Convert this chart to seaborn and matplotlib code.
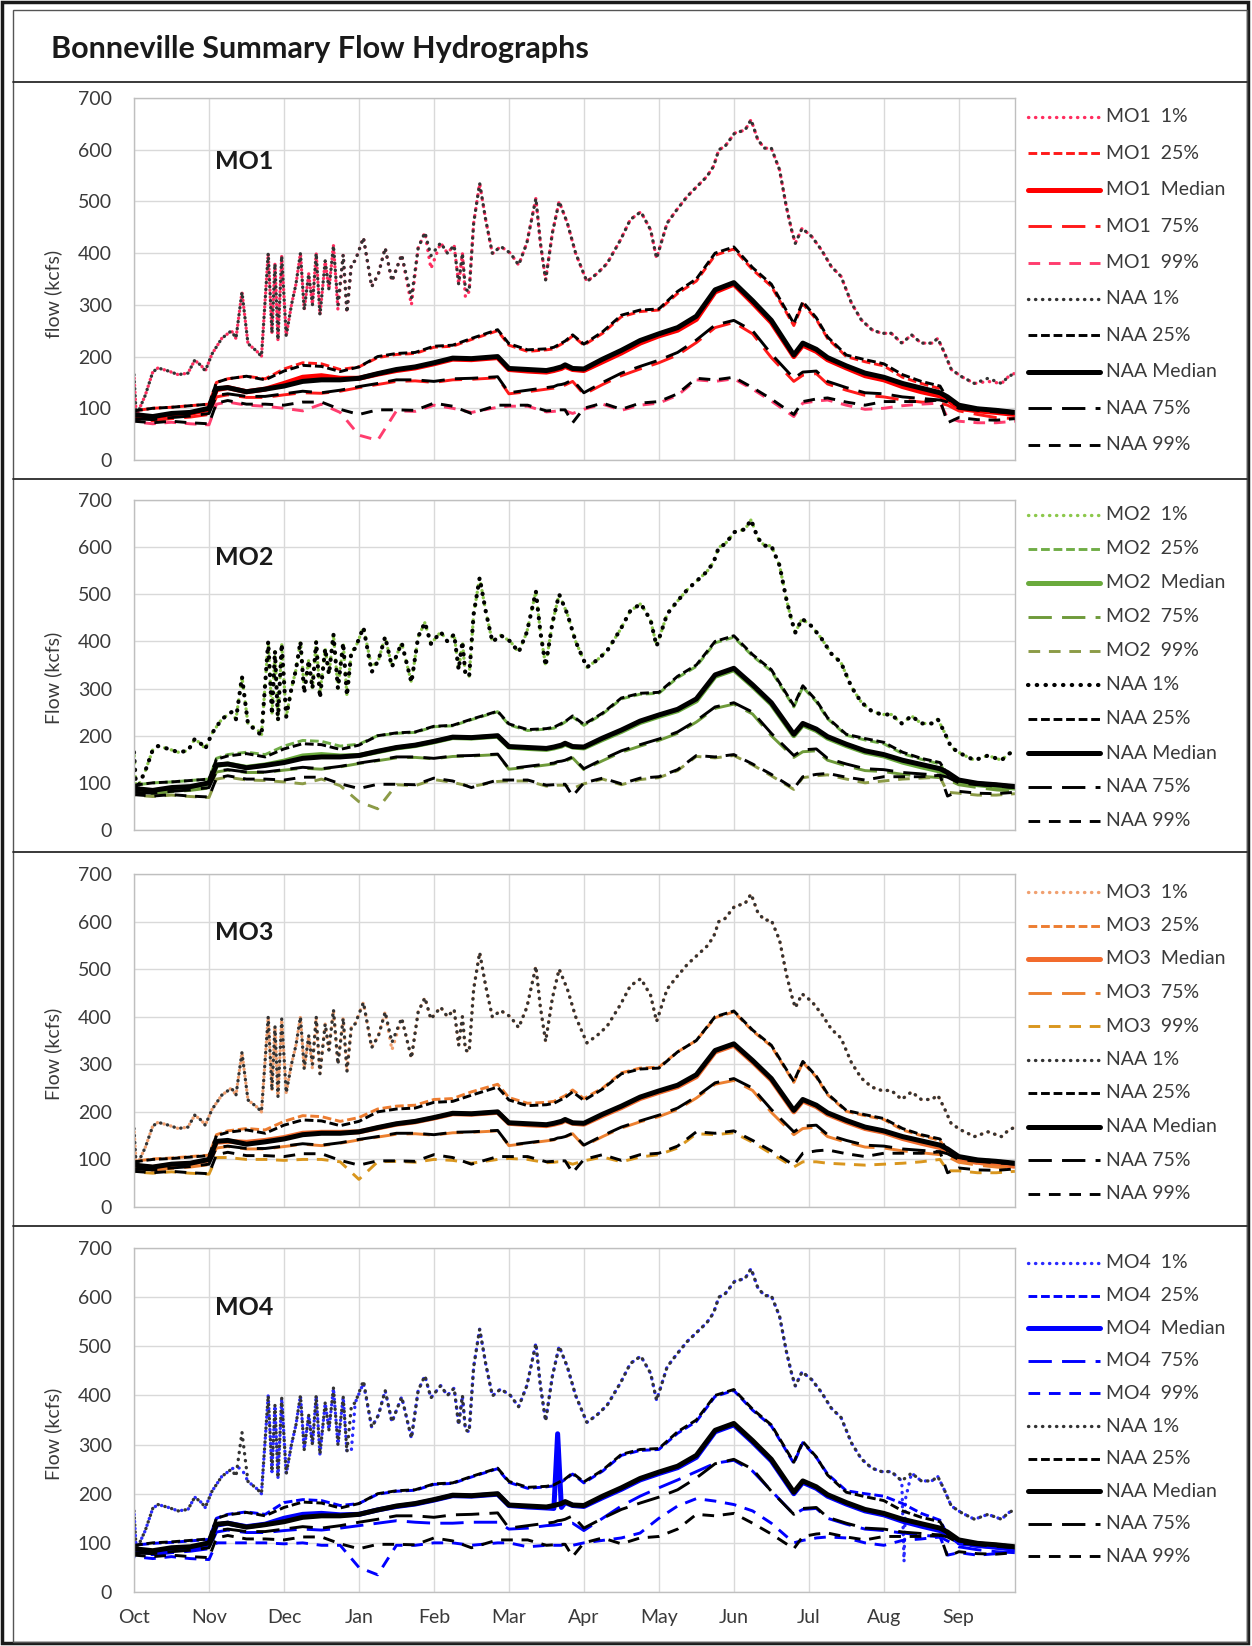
import matplotlib
matplotlib.use("Agg")
import matplotlib.pyplot as plt
from matplotlib.lines import Line2D
from matplotlib.patches import Rectangle
import seaborn as sns

W, H = 1252, 1646

month_labels = ["Oct", "Nov", "Dec", "Jan", "Feb", "Mar", "Apr", "May", "Jun", "Jul", "Aug", "Sep"]

# time axis in months after 1 Oct (gridlines sit on whole months)
t = [0, 0.25, 0.5, 0.75,
     1.0, 1.1, 1.25, 1.5, 1.75,
     2.0, 2.25, 2.5, 2.75,
     3.0, 3.25, 3.5, 3.75,
     4.0, 4.25, 4.5, 4.85,
     5.0, 5.25, 5.5, 5.6, 5.65, 5.7, 5.75, 5.85,
     6.0, 6.25, 6.5, 6.75,
     7.0, 7.25, 7.5, 7.75,
     8.0, 8.25, 8.5, 8.8, 8.92,
     9.1, 9.25, 9.5, 9.75,
     10.0, 10.25, 10.5, 10.75, 10.85,
     11.0, 11.25, 11.5, 11.75]

# ---- NAA (same in every panel) ----
naa_p25 = [95, 100, 102, 105,
           108, 150, 157, 162, 155,
           172, 183, 181, 171,
           180, 200, 206, 208,
           220, 222, 235, 252,
           225, 213, 215, 218, 222, 226, 230, 242,
           224, 248, 280, 290,
           292, 326, 350, 400,
           412, 372, 340, 264, 306,
           275, 238, 203, 194,
           186, 165, 152, 143, 118,
           104, 100, 97, 93]
naa_p50 = [88, 84, 90, 92,
           100, 138, 140, 132, 137,
           143, 152, 155, 155,
           158, 167, 175, 180,
           188, 197, 196, 200,
           177, 175, 173, 176, 178, 180, 184, 177,
           176, 195, 212, 231,
           244, 256, 278, 329,
           343, 308, 270, 203, 226,
           214, 198, 182, 168,
           160, 148, 139, 130, 122,
           106, 99, 96, 92]
naa_p75 = [80, 78, 82, 85,
           90, 125, 128, 123, 123,
           128, 133, 130, 135,
           142, 148, 155, 155,
           152, 157, 158, 161,
           130, 135, 140, 142, 145, 146, 148, 155,
           130, 150, 168, 181,
           193, 208, 232, 261,
           270, 250, 205, 158, 170,
           172, 152, 140, 130,
           128, 122, 119, 116, 112,
           100, 96, 93, 90]
naa_p99 = [75, 72, 75, 72,
           70, 110, 115, 108, 108,
           106, 112, 112, 98,
           88, 97, 97, 96,
           110, 104, 90, 106,
           106, 106, 95, 96, 97, 97, 97, 72,
           100, 110, 98, 110,
           113, 128, 158, 155,
           160, 140, 118, 88, 113,
           118, 120, 112, 106,
           113, 113, 113, 116, 72,
           82, 78, 77, 80]

# 1% exceedance lines use their own, denser time axis
t1 = [0.00, 0.03, 0.15, 0.25, 0.32, 0.46, 0.59, 0.72, 0.81, 0.90, 0.95,
      1.04, 1.17, 1.30, 1.36, 1.44, 1.52, 1.64, 1.70, 1.79, 1.84, 1.88, 1.92, 1.97,
      2.03, 2.10, 2.16, 2.22, 2.27, 2.33, 2.38, 2.43, 2.48, 2.55, 2.60, 2.66, 2.72, 2.79, 2.84, 2.90, 2.95,
      3.06, 3.17, 3.26, 3.35, 3.44, 3.57, 3.70, 3.79, 3.88, 3.96,
      4.09, 4.18, 4.27, 4.33, 4.38, 4.42, 4.47, 4.53, 4.61, 4.69, 4.78, 4.89,
      5.02, 5.13, 5.24, 5.36, 5.42, 5.49, 5.58, 5.67, 5.78, 5.89,
      6.04, 6.18, 6.31, 6.49, 6.62, 6.76, 6.89, 6.97,
      7.11, 7.24, 7.38, 7.51, 7.64, 7.73, 7.80, 7.88,
      8.01, 8.15, 8.23, 8.32, 8.41, 8.50, 8.61, 8.70, 8.77, 8.82, 8.91,
      9.04, 9.17, 9.30, 9.43, 9.57, 9.70, 9.84, 9.97,
      10.10, 10.24, 10.27, 10.29, 10.37, 10.50, 10.64, 10.72, 10.81, 10.90,
      11.04, 11.21, 11.39, 11.57, 11.66, 11.75]
naa_p01 = [165, 85, 125, 170, 178, 172, 165, 168, 193, 182, 172,
           205, 235, 250, 235, 325, 225, 210, 200, 400, 245, 380, 232, 395,
           240, 300, 340, 400, 290, 360, 300, 400, 280, 385, 330, 415, 300, 397, 285, 380, 385,
           430, 335, 360, 410, 346, 397, 313, 410, 440, 395,
           420, 400, 415, 340, 400, 330, 326, 458, 535, 465, 399, 413,
           400, 377, 420, 506, 420, 348, 439, 500, 458, 400,
           345, 361, 380, 426, 465, 480, 445, 390,
           458, 484, 510, 529, 548, 568, 600, 606,
           632, 638, 658, 619, 603, 603, 561, 490, 445, 419, 448,
           432, 406, 374, 355, 303, 271, 252, 245,
           245, 226, 230, 232, 242, 226, 226, 235, 207, 175,
           161, 148, 158, 148, 161, 168]

# ---- MO1 ----
mo1_p01 = [165, 85, 125, 170, 178, 172, 165, 168, 193, 182, 172,
           205, 235, 250, 235, 325, 225, 210, 200, 400, 245, 380, 232, 395,
           240, 300, 340, 400, 290, 360, 300, 400, 280, 385, 330, 415, 290, 397, 285, 380, 385,
           430, 335, 360, 410, 346, 397, 300, 410, 440, 370,
           420, 400, 415, 340, 400, 315, 326, 458, 535, 465, 399, 413,
           400, 377, 420, 506, 420, 348, 439, 500, 458, 400,
           345, 361, 380, 426, 465, 480, 445, 390,
           458, 484, 510, 529, 548, 568, 600, 606,
           632, 638, 658, 619, 603, 603, 561, 490, 445, 419, 448,
           432, 406, 374, 355, 303, 271, 252, 245,
           245, 226, 230, 232, 242, 226, 226, 235, 207, 175,
           161, 148, 152, 148, 161, 168]
mo1_p25 = [95, 100, 102, 105,
           108, 150, 157, 162, 157,
           176, 188, 186, 175,
           180, 198, 204, 206,
           218, 220, 233, 250,
           222, 210, 213, 215, 220, 224, 228, 240,
           222, 245, 277, 287,
           290, 322, 346, 396,
           408, 368, 336, 260, 302,
           272, 235, 200, 190,
           182, 160, 148, 138, 114,
           100, 95, 92, 88]
mo1_p50 = [86, 82, 88, 90,
           98, 136, 140, 132, 137,
           148, 160, 163, 158,
           158, 166, 173, 178,
           186, 195, 194, 198,
           175, 172, 170, 173, 175, 177, 181, 175,
           173, 190, 207, 226,
           240, 251, 272, 325,
           340, 304, 266, 200, 222,
           210, 194, 178, 163,
           155, 142, 132, 124, 117,
           100, 95, 92, 88]
mo1_p75 = [78, 76, 80, 83,
           88, 122, 126, 121, 121,
           126, 130, 129, 133,
           140, 146, 152, 153,
           150, 155, 156, 159,
           128, 132, 137, 139, 142, 143, 145, 152,
           127, 146, 163, 176,
           188, 203, 227, 256,
           266, 244, 198, 152, 164,
           167, 147, 135, 125,
           122, 116, 112, 110, 106,
           95, 88, 82, 80]
mo1_p99 = [74, 70, 73, 70,
           68, 108, 112, 106, 104,
           100, 95, 108, 92,
           48, 38, 95, 94,
           106, 100, 92, 102,
           104, 104, 93, 94, 95, 95, 95, 90,
           98, 108, 96, 106,
           110, 125, 155, 152,
           157, 137, 114, 84, 110,
           114, 116, 106, 98,
           100, 105, 108, 110, 82,
           75, 72, 72, 75]

# ---- MO2 ----
mo2_p01 = [165, 85, 125, 170, 178, 172, 165, 168, 193, 182, 172,
           205, 235, 250, 235, 325, 225, 215, 200, 400, 245, 380, 232, 395,
           240, 300, 340, 400, 300, 360, 300, 400, 290, 385, 330, 415, 300, 397, 285, 380, 385,
           430, 345, 360, 410, 346, 397, 313, 410, 440, 395,
           420, 400, 415, 340, 400, 330, 326, 458, 535, 465, 399, 413,
           400, 377, 420, 506, 420, 348, 439, 500, 458, 400,
           345, 361, 380, 426, 465, 480, 445, 390,
           458, 484, 510, 529, 548, 568, 600, 606,
           632, 638, 658, 619, 603, 603, 561, 490, 445, 419, 448,
           432, 406, 374, 355, 303, 271, 252, 245,
           245, 226, 230, 232, 242, 226, 226, 235, 207, 175,
           161, 148, 158, 148, 161, 168]
mo2_p25 = [95, 100, 102, 105,
           108, 152, 160, 165, 160,
           178, 190, 188, 178,
           182, 200, 205, 207,
           219, 221, 234, 251,
           223, 211, 214, 216, 220, 224, 229, 240,
           222, 246, 278, 288,
           290, 323, 347, 397,
           409, 369, 337, 261, 303,
           272, 236, 201, 191,
           183, 162, 150, 140, 115,
           101, 96, 93, 89]
mo2_p50 = [86, 83, 88, 91,
           99, 137, 140, 133, 138,
           146, 157, 160, 157,
           158, 166, 174, 179,
           187, 196, 195, 199,
           176, 173, 171, 174, 176, 178, 182, 176,
           174, 192, 209, 228,
           241, 253, 274, 326,
           340, 305, 267, 200, 223,
           211, 195, 179, 165,
           157, 144, 134, 125, 118,
           101, 96, 92, 89]
mo2_p75 = [79, 77, 81, 84,
           89, 123, 127, 122, 122,
           127, 131, 129, 134,
           141, 147, 153, 154,
           151, 156, 157, 160,
           129, 133, 138, 140, 143, 144, 146, 153,
           128, 147, 165, 178,
           190, 205, 229, 258,
           267, 246, 200, 154, 166,
           168, 148, 136, 126,
           124, 118, 114, 111, 107,
           96, 90, 85, 82]
mo2_p99 = [74, 71, 74, 71,
           69, 108, 112, 106, 105,
           102, 98, 108, 94,
           60, 45, 96, 94,
           107, 101, 92, 103,
           104, 104, 93, 94, 95, 95, 95, 88,
           98, 108, 96, 107,
           111, 126, 156, 153,
           158, 138, 115, 86, 111,
           115, 117, 108, 100,
           104, 108, 110, 112, 80,
           78, 74, 74, 77]

# ---- MO3 ----
mo3_p01 = [165, 85, 125, 170, 178, 172, 165, 168, 193, 182, 172,
           205, 235, 250, 235, 325, 225, 210, 200, 400, 245, 380, 232, 395,
           240, 300, 340, 400, 290, 360, 290, 400, 280, 385, 330, 415, 300, 397, 285, 380, 385,
           430, 335, 360, 410, 330, 397, 313, 410, 440, 395,
           420, 400, 415, 340, 400, 330, 326, 458, 535, 465, 399, 413,
           400, 377, 420, 506, 420, 348, 439, 500, 458, 400,
           345, 361, 380, 426, 465, 480, 445, 390,
           458, 484, 510, 529, 548, 568, 600, 606,
           632, 638, 658, 619, 603, 603, 561, 490, 445, 419, 448,
           432, 406, 374, 355, 303, 271, 252, 245,
           245, 226, 230, 232, 242, 226, 226, 235, 207, 175,
           161, 148, 158, 148, 161, 168]
mo3_p25 = [96, 101, 103, 106,
           109, 152, 160, 165, 162,
           180, 192, 190, 180,
           188, 206, 212, 214,
           226, 228, 242, 258,
           230, 218, 220, 222, 226, 230, 234, 246,
           228, 250, 282, 292,
           294, 326, 350, 398,
           410, 370, 338, 262, 304,
           273, 236, 201, 192,
           184, 162, 150, 140, 114,
           98, 92, 88, 84]
mo3_p50 = [87, 83, 89, 91,
           99, 136, 138, 136, 140,
           146, 155, 157, 157,
           158, 166, 174, 179,
           187, 196, 195, 199,
           176, 173, 171, 174, 176, 178, 182, 176,
           174, 192, 209, 228,
           241, 253, 274, 326,
           340, 305, 267, 200, 223,
           211, 195, 179, 165,
           157, 144, 134, 125, 118,
           100, 94, 90, 86]
mo3_p75 = [79, 77, 81, 84,
           89, 124, 127, 122, 122,
           127, 132, 129, 134,
           141, 147, 153, 154,
           151, 156, 157, 160,
           129, 134, 139, 141, 144, 145, 147, 154,
           128, 148, 166, 179,
           190, 205, 229, 258,
           266, 245, 199, 152, 165,
           168, 148, 136, 126,
           124, 118, 114, 110, 106,
           94, 88, 84, 80]
mo3_p99 = [74, 71, 74, 71,
           69, 104, 104, 100, 100,
           98, 100, 100, 95,
           58, 95, 96, 94,
           100, 98, 92, 100,
           102, 100, 93, 94, 95, 95, 95, 90,
           97, 105, 95, 105,
           110, 124, 154, 152,
           156, 136, 112, 84, 95,
           95, 92, 90, 88,
           90, 92, 95, 100, 76,
           76, 72, 72, 75]

# ---- MO4 ----
mo4_p01 = [165, 85, 125, 170, 178, 172, 165, 168, 193, 182, 172,
           205, 235, 250, 255, 250, 225, 210, 200, 400, 245, 380, 232, 395,
           240, 300, 340, 400, 290, 360, 300, 400, 280, 385, 330, 415, 300, 397, 285, 290, 385,
           425, 335, 360, 410, 346, 397, 313, 410, 440, 395,
           420, 400, 415, 340, 400, 330, 326, 458, 535, 465, 399, 413,
           400, 377, 420, 506, 420, 348, 439, 500, 458, 400,
           345, 361, 380, 426, 465, 480, 445, 390,
           458, 484, 510, 529, 548, 568, 600, 606,
           632, 638, 658, 619, 603, 603, 561, 490, 445, 419, 448,
           432, 406, 374, 355, 303, 271, 252, 245,
           245, 226, 62, 190, 242, 226, 226, 235, 207, 175,
           161, 148, 158, 148, 161, 168]
mo4_p25 = [95, 99, 101, 104,
           107, 150, 158, 163, 158,
           182, 188, 186, 176,
           180, 199, 205, 207,
           219, 221, 234, 251,
           223, 211, 214, 216, 220, 224, 229, 240,
           222, 246, 278, 288,
           290, 323, 347, 398,
           410, 370, 338, 262, 304,
           274, 240, 206, 200,
           195, 180, 160, 146, 116,
           98, 93, 90, 88]
mo4_p50 = [84, 80, 86, 88,
           96, 136, 140, 133, 138,
           150, 158, 160, 157,
           158, 167, 174, 179,
           187, 196, 195, 199,
           176, 173, 171, 170, 322, 172, 182, 176,
           174, 192, 209, 228,
           241, 253, 274, 326,
           340, 305, 267, 200, 223,
           211, 195, 179, 165,
           157, 144, 134, 125, 118,
           101, 95, 91, 88]
mo4_p75 = [78, 76, 80, 83,
           88, 122, 126, 121, 121,
           125, 128, 126, 130,
           135, 140, 145, 142,
           140, 140, 142, 142,
           128, 130, 135, 136, 137, 138, 138, 140,
           125, 150, 175, 195,
           212, 228, 245, 262,
           268, 246, 206, 158, 168,
           170, 150, 138, 128,
           125, 120, 116, 112, 104,
           92, 86, 82, 80]
mo4_p99 = [72, 68, 72, 68,
           66, 100, 100, 100, 100,
           98, 100, 95, 95,
           50, 35, 95, 95,
           100, 100, 95, 100,
           100, 92, 95, 95, 95, 95, 98, 95,
           100, 105, 110, 120,
           150, 175, 190, 185,
           178, 165, 140, 100, 105,
           110, 112, 110, 100,
           95, 105, 108, 112, 75,
           80, 75, 78, 85]

pct_names = ["1%", "25%", "Median", "75%", "99%"]
naa_series = [naa_p01, naa_p25, naa_p50, naa_p75, naa_p99]
mo_series = {
    "MO1": [mo1_p01, mo1_p25, mo1_p50, mo1_p75, mo1_p99],
    "MO2": [mo2_p01, mo2_p25, mo2_p50, mo2_p75, mo2_p99],
    "MO3": [mo3_p01, mo3_p25, mo3_p50, mo3_p75, mo3_p99],
    "MO4": [mo4_p01, mo4_p25, mo4_p50, mo4_p75, mo4_p99],
}
mo_colors = {
    "MO1": ["#ff2d5f", "#ff1a1a", "#ff0000", "#ff1a1a", "#ff3d6e"],
    "MO2": ["#8cc84b", "#70ad47", "#6aaa3c", "#6e9a3a", "#8c9b47"],
    "MO3": ["#f0a070", "#ed7d31", "#f26b2d", "#ec8030", "#d9961e"],
    "MO4": ["#2a2aff", "#0000ff", "#0000ff", "#0000ff", "#0000ff"],
}

# line styles: (dash pattern, width) per percentile; MO lines shifted half a period
patterns = [(0.1, 2.0), (3, 1.3), None, (8, 3.5), (4, 3)]
widths = [2.4, 2.1, 3.6, 2.1, 2.1]


def style(i, shift):
    if patterns[i] is None:
        return "-"
    on, off = patterns[i]
    return ((on + off) / 2 if shift else 0, (on, off))


# panel geometry in pixels: (top of 700, bottom at 0, legend first y, legend step)
panels = [
    ("MO1", 98, 460, 117, 36.4, "flow (kcfs)"),
    ("MO2", 500, 830, 515, 34.0, "Flow (kcfs)"),
    ("MO3", 874, 1207, 892, 33.5, "Flow (kcfs)"),
    ("MO4", 1248, 1592, 1263, 32.6, "Flow (kcfs)"),
]

sns.set_theme(style="whitegrid")
plt.rcParams["font.family"] = ["Lato", "DejaVu Sans"]

fig = plt.figure(figsize=(W / 100, H / 100), dpi=100)
fig.patch.set_facecolor("white")

left, right = 134, 1015

for k, (name, top, bot, leg_y0, leg_dy, ylab) in enumerate(panels):
    ax = fig.add_axes([left / W, 1 - bot / H, (right - left) / W, (bot - top) / H])
    ax.set_facecolor("white")
    naa_p01_color = "#000000" if name == "MO2" else "#333333"
    naa_colors = [naa_p01_color, "black", "black", "black", "black"]
    naa_w = list(widths)
    if name == "MO2":
        naa_w[0] = 3.0

    entries = []
    # MO lines first, NAA drawn on top
    for i, ys in enumerate(mo_series[name]):
        xs = t1 if i == 0 else t
        sns.lineplot(x=xs, y=ys, ax=ax, color=mo_colors[name][i], linewidth=widths[i],
                     linestyle=style(i, True), dash_capstyle="round" if i == 0 else "butt",
                     sort=False, estimator=None, legend=False)
        entries.append((f"{name}  {pct_names[i]}", mo_colors[name][i], widths[i], style(i, False), i == 0))
    for i, ys in enumerate(naa_series):
        xs = t1 if i == 0 else t
        sns.lineplot(x=xs, y=ys, ax=ax, color=naa_colors[i], linewidth=naa_w[i],
                     linestyle=style(i, False), dash_capstyle="round" if i == 0 else "butt",
                     sort=False, estimator=None, legend=False)
        entries.append((f"NAA {pct_names[i]}", naa_colors[i], naa_w[i], style(i, False), i == 0))

    ax.set_xlim(0, 11.75)
    ax.set_ylim(0, 700)
    ax.set_yticks(range(0, 701, 100))
    ax.set_xticks(range(12))
    ax.grid(True, color="#d9d9d9", linewidth=1.0)
    for sp in ax.spines.values():
        sp.set_color("#bfbfbf")
        sp.set_linewidth(1.0)
    ax.tick_params(axis="both", length=0, labelsize=14, labelcolor="#3a3a3a")
    ax.tick_params(axis="y", pad=16)
    if k == 3:
        ax.set_xticklabels(month_labels)
        ax.tick_params(axis="x", pad=12)
    else:
        ax.tick_params(axis="x", labelbottom=False)
    ax.set_xlabel("")
    ax.set_ylabel(ylab, fontsize=14, color="#3a3a3a")
    ax.yaxis.set_label_coords((62 - left) / (right - left), 0.46)

    ax.text(1.47, 578, name, ha="center", va="center", fontsize=18,
            fontweight="bold", color="#1a1a1a")

    # legend, one row per series
    for j, (lab, col, lw, ls, dotted) in enumerate(entries):
        y = leg_y0 + j * leg_dy
        fig.add_artist(Line2D([1028 / W, 1100 / W], [1 - y / H, 1 - y / H], color=col,
                              linewidth=lw, linestyle=ls,
                              dash_capstyle="round" if dotted else "butt"))
        fig.text(1106 / W, 1 - y / H, lab, ha="left", va="center", fontsize=14, color="#3a3a3a")

# title and frame
fig.text(51 / W, 1 - 49 / H, "Bonneville Summary Flow Hydrographs", ha="left", va="center",
         fontsize=22, fontweight="bold", color="#1a1a1a")
fig.add_artist(Rectangle((2 / W, 3 / H), 1246 / W, 1641 / H, transform=fig.transFigure,
                         fill=False, edgecolor="#1a1a1a", linewidth=2.5))
fig.add_artist(Rectangle((13 / W, 4 / H), 1234 / W, 1632 / H, transform=fig.transFigure,
                         fill=False, edgecolor="#555555", linewidth=1.0))
for ysep in [82, 479, 852, 1226]:
    fig.add_artist(Line2D([13 / W, 1247 / W], [1 - ysep / H, 1 - ysep / H],
                          color="#2a2a2a", linewidth=1.3))

fig.savefig("out.png", dpi=100)
